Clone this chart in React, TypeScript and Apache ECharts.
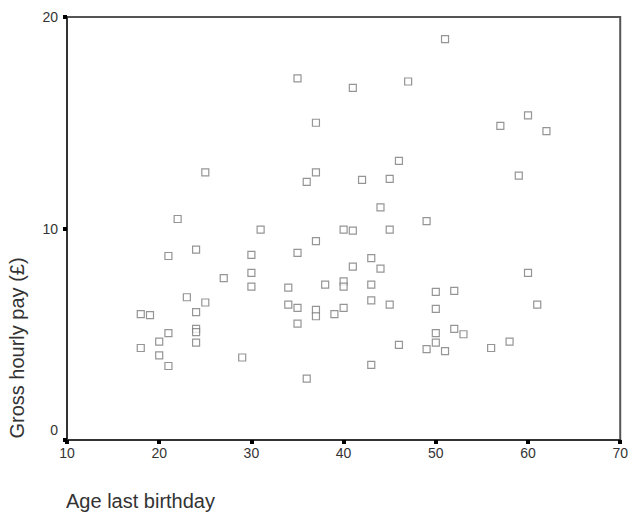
import React, { useEffect, useRef } from "react";
import * as echarts from "echarts";

const ages: number[] = [
  18, 19, 18, 20, 20, 21, 21, 21, 22, 23, 24, 24, 24, 24, 24, 25, 25, 27, 29, 30,
  30, 30, 31, 34, 34, 35, 35, 35, 35, 36, 36, 37, 37, 37, 37, 37, 38, 39, 40, 40,
  40, 40, 41, 41, 41, 42, 43, 43, 43, 43, 44, 44, 45, 45, 45, 46, 46, 47, 49, 49,
  50, 50, 50, 50, 51, 51, 52, 52, 53, 56, 57, 58, 59, 60, 60, 61, 62,
];
const pay: number[] = [
  5.95, 5.9, 4.35, 4.65, 4.0, 5.05, 3.5, 8.7, 10.45, 6.75, 9.0, 6.05, 5.25, 5.1, 4.6, 6.5, 12.65, 7.65, 3.9, 8.75,
  7.9, 7.25, 9.95, 7.2, 6.4, 8.85, 6.25, 5.5, 17.1, 12.2, 2.9, 15.0, 12.65, 9.4, 6.15, 5.85, 7.35, 5.95, 9.95, 7.5,
  7.25, 6.25, 9.9, 8.2, 16.65, 12.3, 8.6, 7.35, 6.6, 3.55, 11.0, 8.1, 12.35, 9.95, 6.4, 13.2, 4.5, 16.95, 10.35, 4.3,
  7.0, 6.2, 5.05, 4.6, 4.2, 18.95, 7.05, 5.25, 5.0, 4.35, 14.85, 4.65, 12.5, 7.9, 15.35, 6.4, 14.6,
];
const xTitle = "Age last birthday";
const yTitle = "Gross hourly pay (£)";

export default function App() {
  const ref = useRef<HTMLDivElement>(null);
  useEffect(() => {
    if (!ref.current) return;
    const chart = echarts.init(ref.current, undefined, { renderer: "svg" });
    const font = "'Liberation Sans', Arial, sans-serif";
    chart.setOption({
      animation: false,
      backgroundColor: "#ffffff",
      textStyle: { fontFamily: font },
      grid: {
        left: 67,
        right: 6,
        top: 17,
        bottom: 73,
        show: true,
        borderColor: "#555555",
        borderWidth: 2,
        backgroundColor: "#ffffff",
      },
      xAxis: {
        type: "value",
        min: 10,
        max: 70,
        interval: 10,
        axisLine: { show: true, lineStyle: { color: "#333333", width: 2 } },
        axisTick: { show: true, length: 4, lineStyle: { color: "#000000", width: 4 } },
        splitLine: { show: false },
        axisLabel: { color: "#333333", fontSize: 14, margin: 6, fontFamily: font },
      },
      yAxis: {
        type: "value",
        min: 0,
        max: 20,
        interval: 10,
        axisLine: { show: true, lineStyle: { color: "#333333", width: 2 } },
        axisTick: { show: true, length: 4, lineStyle: { color: "#000000", width: 4 } },
        splitLine: { show: false },
        axisLabel: {
          color: "#333333",
          fontSize: 14,
          margin: 9,
          fontFamily: font,
          formatter: (v: number) => (v === 0 ? "{z|0}" : String(v)),
          rich: { z: { fontSize: 14, color: "#333333", padding: [0, 0, 20, 0], fontFamily: font } },
        },
      },
      graphic: [
        {
          type: "text",
          left: 66,
          top: 491,
          style: { text: xTitle, fontSize: 20, fill: "#333333", fontFamily: font },
        },
        {
          type: "text",
          x: 17,
          y: 348,
          rotation: Math.PI / 2,
          style: {
            text: yTitle,
            fontSize: 20,
            fill: "#333333",
            fontFamily: font,
            align: "center",
            verticalAlign: "middle",
          },
        },
      ],
      series: [
        {
          type: "scatter",
          symbol: "rect",
          symbolSize: 7,
          data: ages.map((a, i) => [a, pay[i]]),
          itemStyle: { color: "#ffffff", borderColor: "#7a7a7a", borderWidth: 1.2 },
        },
      ],
    });
    return () => chart.dispose();
  }, []);
  return (
    <div
      ref={ref}
      style={{ position: "absolute", left: 0, top: 0, width: 631, height: 513 }}
    />
  );
}
